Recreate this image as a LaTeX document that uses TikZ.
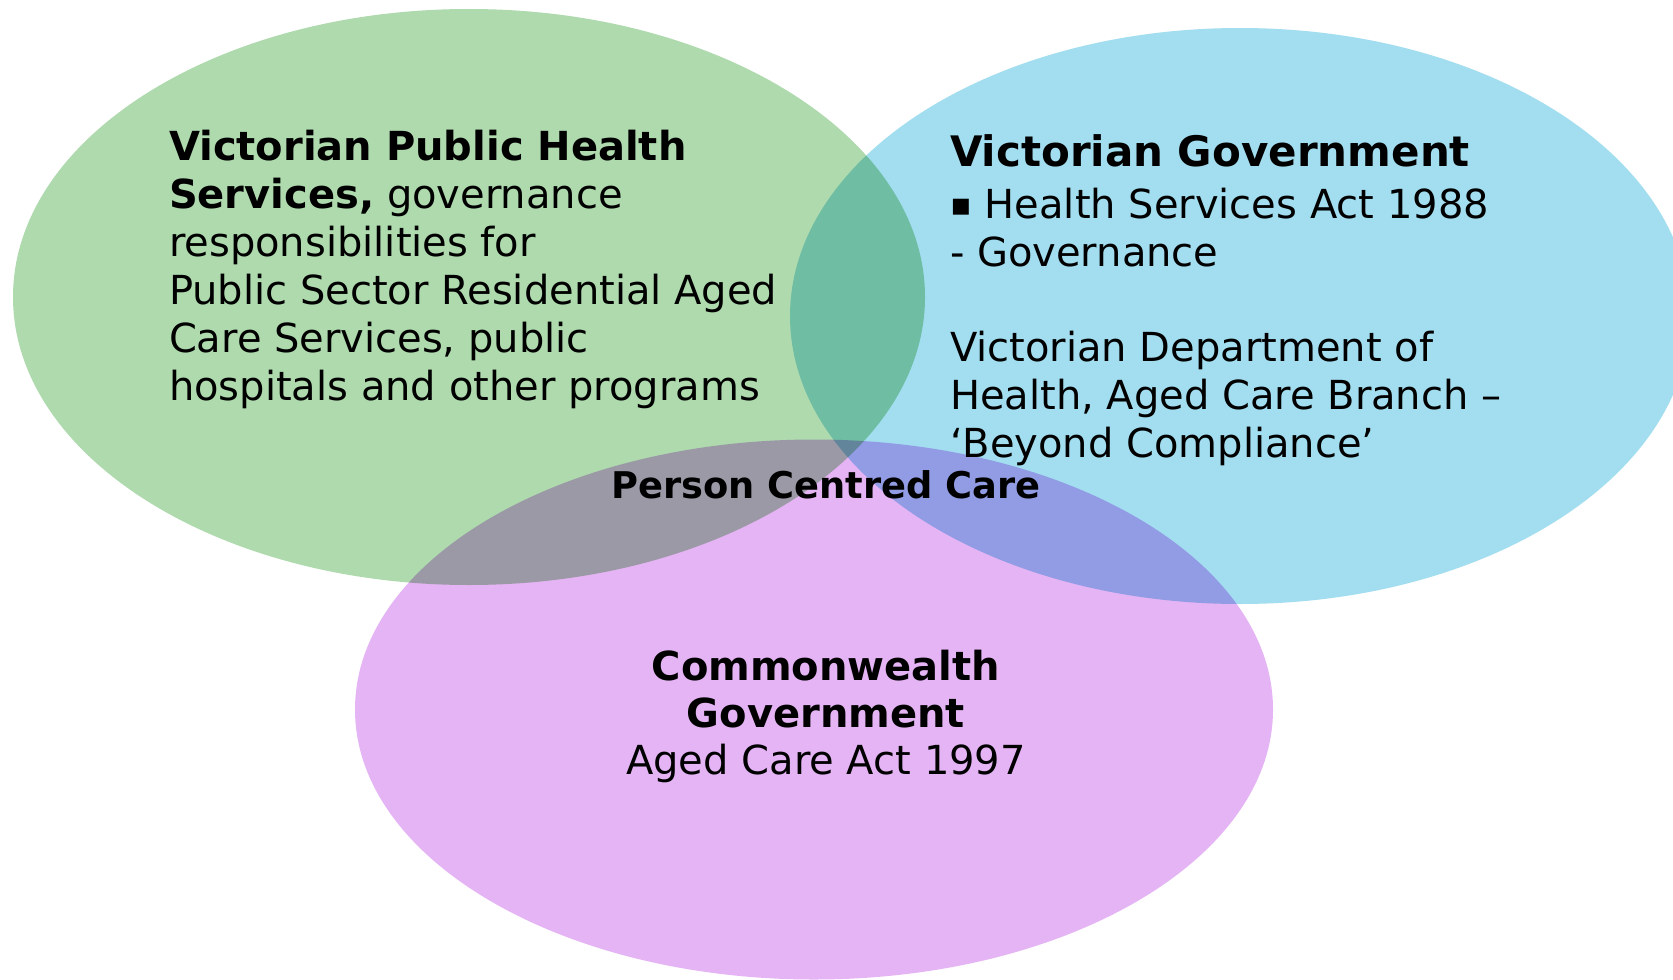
\documentclass[tikz,border=0pt]{standalone}
\usepackage{fontspec}
\setmainfont{DejaVu Sans}
\definecolor{vgreen}{RGB}{174,218,174}
\definecolor{vblue}{RGB}{163,222,240}
\definecolor{vpurple}{RGB}{229,180,244}
\newcommand\txtnorm{\fontsize{20}{24}\selectfont}
\newcommand\txttitle{\fontsize{21}{25}\selectfont\bfseries}
\newcommand\txtpcc{\fontsize{18.4}{22}\selectfont\bfseries}
\begin{document}
\begin{tikzpicture}[x=0.5pt,y=-0.5pt,
  ln/.style={inner sep=0pt,anchor=base west,font=\txtnorm},
  lc/.style={inner sep=0pt,anchor=base,font=\txtnorm},
  blob/.style={blend mode=multiply}]
\fill[white] (0,0) rectangle (1673,979);
\useasboundingbox (0,0) rectangle (1673,979);
% circles
\fill[vgreen,blob] (469,297) ellipse [x radius=228pt, y radius=144pt];
\fill[vblue,blob] (1240,316) ellipse [x radius=225pt, y radius=144pt];
\fill[vpurple,blob] (814,709.5) ellipse [x radius=229.5pt, y radius=135pt];
% left block
\node[ln] (l1) at (168.6,160.7) {\bfseries Victorian Public Health};
\node[ln] (l2) at (168.6,208.7) {\textbf{Services,} governance};
\node[ln] (l3) at (168.6,256.7) {responsibilities for};
\node[ln] (l4) at (168.6,304.7) {Public Sector Residential Aged};
\node[ln] (l5) at (168.6,352.7) {Care Services, public};
\node[ln] (l6) at (168.6,400.7) {hospitals and other programs};
% right block
\node[ln,font=\txttitle] (r1) at (949.6,166.7) {Victorian Government};
\node[ln] (r2) at (949.6,218) {\raisebox{1.5pt}{\fontsize{16}{18}\selectfont ▪}\hspace{6.5pt}Health Services Act 1988};
\node[ln] (r3) at (949.6,266) {- Governance};
\node[ln] (r4) at (949.6,361) {Victorian Department of};
\node[ln] (r5) at (949.6,409) {Health, Aged Care Branch –};
\node[ln] (r6) at (949.6,457) {‘Beyond Compliance’};
% centre
\node[lc,font=\txtpcc] (pcc) at (826,498) {Person Centred Care};
% bottom block
\node[lc,font=\txtnorm\bfseries] (c1) at (826,680) {Commonwealth};
\node[lc,font=\txtnorm\bfseries] (c2) at (826,727) {Government};
\node[lc] (c3) at (826,774) {Aged Care Act 1997};
\end{tikzpicture}
\end{document}
